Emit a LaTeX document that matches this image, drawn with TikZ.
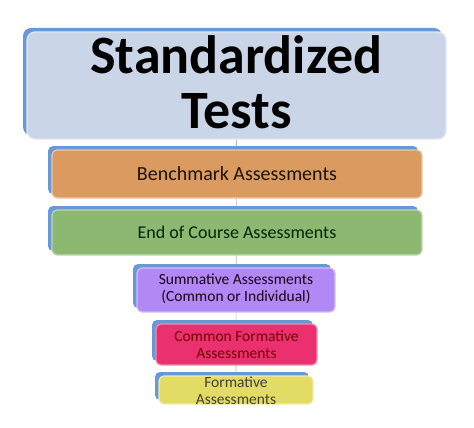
\documentclass[tikz,border=0pt]{standalone}
\usepackage{fontspec}
\setmainfont{Carlito}
\usetikzlibrary{shadows}
\usetikzlibrary{backgrounds}

\definecolor{plate}{RGB}{104,152,214}
\definecolor{topfill}{RGB}{202,213,232}
\definecolor{benchfill}{RGB}{218,154,96}
\definecolor{eocfill}{RGB}{140,184,114}
\definecolor{summfill}{RGB}{178,136,244}
\definecolor{cfafill}{RGB}{234,48,110}
\definecolor{formfill}{RGB}{226,219,100}

\tikzset{
    tier/.style={rectangle, rounded corners=5pt, fill=#1, draw=#1!55!white,
        line width=1.2pt, inner sep=0pt,
        copy shadow={shadow xshift=-4pt, shadow yshift=4pt, fill=plate, draw=none}},
    tiertext/.style={align=center, inner sep=0pt, font=\fontsize{15.5}{17}\selectfont},
}

\begin{document}
\begin{tikzpicture}[x=1pt, y=-1pt]
    \useasboundingbox (0,0) rectangle (474,428);

    \node[tier=topfill, rounded corners=8pt, minimum width=419pt, minimum height=107pt] (std) at (236.5,85.5) {};
    \node[tier=benchfill, minimum width=370pt, minimum height=48pt] (bench) at (237,174) {};
    \node[tier=eocfill, minimum width=370pt, minimum height=45pt] (eoc) at (237,232.5) {};
    \node[tier=summfill, minimum width=198pt, minimum height=44pt] (summ) at (236,290) {};
    \node[tier=cfafill, minimum width=161pt, minimum height=41pt] (cfa) at (236.5,344.5) {};
    \node[tier=formfill, minimum width=154pt, minimum height=28pt] (form) at (236,390) {};

    \begin{pgfonlayer}{background}
        \draw[gray!55, line width=0.6pt, xshift=-4pt] (std.south) -- (form.north);
    \end{pgfonlayer}

    \node[tiertext, font=\fontsize{54}{55}\selectfont\bfseries] (stdtxt) at ([yshift=3pt]std.center) {Standardized\\Tests};
    \node[tiertext, font=\fontsize{20}{22}\selectfont, text=black!85!brown] (benchtxt) at (bench.center) {Benchmark Assessments};
    \node[tiertext, font=\fontsize{18}{20}\selectfont, text=black!85!green] (eoctxt) at (eoc.center) {End of Course Assessments};
    \node[tiertext, text=black!80!violet] (summtxt) at ([yshift=1pt]summ.center) {Summative Assessments\\(Common or Individual)};
    \node[tiertext, text=red!45!black] (cfatxt) at (cfa.center) {Common Formative\\Assessments};
    \node[tiertext, text=black!85!yellow] (formtxt) at ([yshift=-1pt]form.center) {Formative\\Assessments};
\end{tikzpicture}
\end{document}
